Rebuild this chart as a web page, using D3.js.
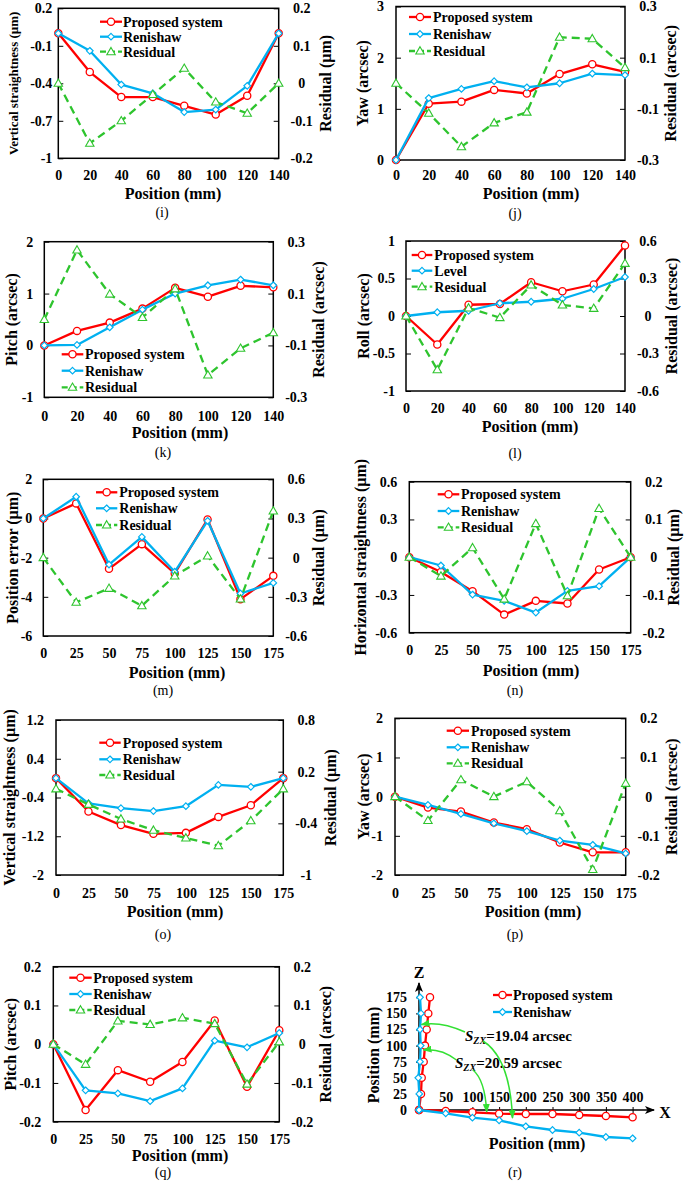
<!DOCTYPE html>
<html><head><meta charset="utf-8">
<script src="https://cdn.jsdelivr.net/npm/d3@7"></script>
<style>body{margin:0;background:#fff} svg{display:block} text{font-family:"Liberation Serif","Times New Roman",serif;}</style>
</head><body><svg id="c" width="685" height="1182" font-family="Liberation Serif, Times New Roman, serif"></svg>
<script>
// ---------- data ----------
const pos140 = [0,20,40,60,80,100,120,140];
const pos175 = [0,25,50,75,100,125,150,175];
const namesRen = ["Proposed system","Renishaw","Residual"];
const namesLev = ["Proposed system","Level","Residual"];

const iProposed = [0,-0.31,-0.51,-0.51,-0.58,-0.65,-0.50,0];
const iRenishaw = [0,-0.14,-0.41,-0.48,-0.63,-0.61,-0.42,0];
const iResidual = [0,-0.16,-0.10,-0.03,0.04,-0.05,-0.08,0];
const iLeftTicks = [0.2,-0.1,-0.4,-0.7,-1];
const iRightTicks = [0.2,0.1,0,-0.1,-0.2];

const jProposed = [0,1.10,1.14,1.37,1.30,1.68,1.87,1.72];
const jRenishaw = [0,1.21,1.39,1.54,1.42,1.50,1.69,1.66];
const jResidual = [0,-0.117,-0.248,-0.155,-0.113,0.18,0.174,0.061];
const jLeftTicks = [3,2,1,0];
const jRightTicks = [0.3,0.1,-0.1,-0.3];

const kProposed = [0,0.28,0.44,0.71,1.11,0.94,1.15,1.12];
const kRenishaw = [0,0.01,0.35,0.69,1.00,1.16,1.27,1.16];
const kResidual = [0,0.268,0.098,0.008,0.118,-0.214,-0.111,-0.051];
const kLeftTicks = [2,1,0,-1];
const kRightTicks = [0.3,0.1,-0.1,-0.3];

const lProposed = [0,-0.38,0.15,0.16,0.45,0.33,0.42,0.94];
const lLevel = [0,0.05,0.07,0.17,0.19,0.23,0.36,0.52];
const lResidual = [0,-0.43,0.064,-0.013,0.248,0.088,0.061,0.421];
const lLeftTicks = [1,0.5,0,-0.5,-1];
const lRightTicks = [0.6,0.3,0,-0.3,-0.6];

const mProposed = [0,0.77,-2.57,-1.31,-2.81,-0.05,-4.12,-2.93];
const mRenishaw = [0,1.11,-2.35,-0.94,-2.72,-0.12,-3.83,-3.29];
const mResidual = [0,-0.342,-0.235,-0.368,-0.14,0.013,-0.317,0.357];
const mLeftTicks = [2,0,-2,-4,-6];
const mRightTicks = [0.6,0.3,0,-0.3,-0.6];

const nProposed = [0,-0.117,-0.27,-0.456,-0.347,-0.368,-0.098,0];
const nRenishaw = [0,-0.066,-0.297,-0.347,-0.44,-0.268,-0.23,0];
const nResidual = [0,-0.05,0.025,-0.111,0.089,-0.102,0.129,0];
const nLeftTicks = [0.6,0.3,0,-0.3,-0.6];
const nRightTicks = [0.2,0.1,0,-0.1,-0.2];

const oProposed = [0,-0.69,-0.97,-1.15,-1.13,-0.80,-0.56,0];
const oRenishaw = [0,-0.52,-0.62,-0.68,-0.58,-0.14,-0.18,0];
const oResidual = [0,-0.18,-0.35,-0.48,-0.57,-0.66,-0.37,0];
const oLeftTicks = [1.2,0.4,-0.4,-1.2,-2];
const oRightTicks = [0.8,0.2,-0.4,-1];

const pProposed = [0,-0.28,-0.38,-0.66,-0.83,-1.17,-1.42,-1.42];
const pRenishaw = [0,-0.21,-0.44,-0.68,-0.88,-1.12,-1.23,-1.45];
const pResidual = [0,-0.061,0.043,0,0.038,-0.036,-0.186,0.034];
const pLeftTicks = [2,1,0,-1,-2];
const pRightTicks = [0.2,0.1,0,-0.1,-0.2];

const qProposed = [0,-0.170,-0.067,-0.097,-0.046,0.061,-0.110,0.036];
const qRenishaw = [0,-0.119,-0.127,-0.147,-0.114,0.009,-0.008,0.029];
const qResidual = [0,-0.052,0.060,0.051,0.068,0.053,-0.103,0.006];
const qLeftTicks = [0.2,0.1,0,-0.1,-0.2];
const qRightTicks = [0.2,0.1,0,-0.1,-0.2];

// (r) squareness plot
const rZPos = [0,25,50,75,100,125,150,175];
const rXPos = [0,50,100,150,200,250,300,350,400];
const rProposedZDev = [0,4,5.4,9.4,12,15.4,18.6,22];
const rRenishawZDev = [0,0.6,-1.4,2,3.4,2,4,2];
const rProposedXDev = [0,-2,-4.6,-7.4,-8,-8,-10,-12,-14.6];
const rRenishawXDev = [0,-6.6,-15.4,-20.6,-32.6,-40,-45.4,-54,-56.6];
const rZTicks = [0,25,50,75,100,125,150,175];
const rXTicks = [50,100,150,200,250,300,350,400];
const rNames = ["Proposed system","Renishaw"];
const rAnnot = ["19.04 arcsec","20.59 arcsec"];

// ---------- style ----------
const RED="#ff0000", BLUE="#00b0f0", GREEN="#2ec42e", ARROWG="#33e033";
const COLORS=[RED,BLUE,GREEN];
const FONT="Liberation Serif, Times New Roman, serif";
const svg = d3.select("#c");

function marker(g, type, cx, cy){
  if(type===0){
    g.append("circle").attr("cx",cx).attr("cy",cy).attr("r",3.6)
     .attr("fill","#fff").attr("stroke",RED).attr("stroke-width",1.3);
  } else if(type===1){
    const s=3.3;
    g.append("path").attr("d",`M${cx},${cy-s}L${cx+s},${cy}L${cx},${cy+s}L${cx-s},${cy}Z`)
     .attr("fill","#fff").attr("stroke",BLUE).attr("stroke-width",1.2);
  } else {
    g.append("path").attr("d",`M${cx},${cy-4.3}L${cx+4.2},${cy+3}L${cx-4.2},${cy+3}Z`)
     .attr("fill","#fff").attr("stroke",GREEN).attr("stroke-width",1.1);
  }
}

function styleAxisText(sel, size){
  sel.attr("font-family",FONT).selectAll("text")
    .attr("font-family",FONT)
    .attr("font-size",size).attr("font-weight","bold").attr("fill","#000");
}

const panels = [
 {lab:"(i)", xs:pos140, s:[iProposed,iRenishaw,iResidual], names:namesRen, ld:[-1,0.2], lt:iLeftTicks, rd:[-0.2,0.2], rt:iRightTicks,
  box:[58.3,8.3,278.7,158.3], lgap:6, ytitle:"Vertical straightness (µm)", yfs:13, ytx:13, rtitle:"Residual (µm)", rtx:325,
  xly:175, xtx:173, xty:193, plx:162, ply:212, leg:[100,122,123,[21.7,36.7,51.7]]},
 {lab:"(j)", xs:pos140, s:[jProposed,jRenishaw,jResidual], names:namesRen, ld:[0,3], lt:jLeftTicks, rd:[-0.3,0.3], rt:jRightTicks,
  box:[396,6.5,625,160], lgap:12, ytitle:"Yaw (arcsec)", ytx:362, rtitle:"Residual (arcsec)", rtx:670,
  xly:175, xtx:531, xty:193, plx:515, ply:213, leg:[409,431,433,[17,34,51]]},
 {lab:"(k)", xs:pos140, s:[kProposed,kRenishaw,kResidual], names:namesRen, ld:[-1,2], lt:kLeftTicks, rd:[-0.3,0.3], rt:kRightTicks,
  box:[44.3,241.7,273.3,397.3], lgap:11, ytitle:"Pitch (arcsec)", ytx:11, rtitle:"Residual (arcsec)", rtx:318,
  xly:415.7, xtx:180, xty:432.3, plx:163, ply:452, leg:[61.7,83.3,85,[354.3,370.7,387.3]]},
 {lab:"(l)", xs:pos140, s:[lProposed,lLevel,lResidual], names:namesLev, ld:[-1,1], lt:lLeftTicks, rd:[-0.6,0.6], rt:lRightTicks,
  box:[406,241,625,391], lgap:11, ytitle:"Roll (arcsec)", ytx:363, rtitle:"Residual (arcsec)", rtx:671,
  xly:408.3, xtx:530, xty:426, plx:515, ply:453, leg:[411.7,432.3,434.3,[255,270.7,286.7]]},
 {lab:"(m)", xs:pos175, s:[mProposed,mRenishaw,mResidual], names:namesRen, ld:[-6,2], lt:mLeftTicks, rd:[-0.6,0.6], rt:mRightTicks,
  box:[43.3,479.3,273.3,636], lgap:11, ytitle:"Position error (µm)", ytx:12, rtitle:"Residual (µm)", rtx:318,
  xly:653.3, xtx:177, xty:672, plx:163, ply:690, leg:[96,117.3,119.3,[492.3,508.3,525]]},
 {lab:"(n)", xs:pos175, s:[nProposed,nRenishaw,nResidual], names:namesRen, ld:[-0.6,0.6], lt:nLeftTicks, rd:[-0.2,0.2], rt:nRightTicks,
  box:[409.3,481.7,630.7,632.7], lgap:12, ytitle:"Horizontal straightness (µm)", ytx:360, rtitle:"Residual (µm)", rtx:673,
  xly:650, xtx:531, xty:670, plx:515, ply:690, leg:[437.7,459.3,461,[494.3,511,527.3]]},
 {lab:"(o)", xs:pos175, s:[oProposed,oRenishaw,oResidual], names:namesRen, ld:[-2,1.2], lt:oLeftTicks, rd:[-1,0.8], rt:oRightTicks,
  box:[56,720,283.3,875], lgap:12, ytitle:"Vertical straightness (µm)", ytx:9, rtitle:"Residual (µm)", rtx:330,
  xly:893, xtx:175, xty:911, plx:163, ply:934, leg:[99.3,120.7,122.7,[742.7,759.3,775]]},
 {lab:"(p)", xs:pos175, s:[pProposed,pRenishaw,pResidual], names:namesRen, ld:[-2,2], lt:pLeftTicks, rd:[-0.2,0.2], rt:pRightTicks,
  box:[395,718.3,625.7,875], lgap:12, ytitle:"Yaw (arcsec)", ytx:363, rtitle:"Residual (arcsec)", rtx:671,
  xly:893, xtx:533, xty:911, plx:515, ply:934, leg:[446.7,469,471,[730.7,747.3,763.3]]},
 {lab:"(q)", xs:pos175, s:[qProposed,qRenishaw,qResidual], names:namesRen, ld:[-0.2,0.2], lt:qLeftTicks, rd:[-0.2,0.2], rt:qRightTicks,
  box:[53.3,966.7,279.3,1121.7], lgap:12, ytitle:"Pitch (arcsec)", ytx:10, rtitle:"Residual (arcsec)", rtx:325,
  xly:1139, xtx:180, xty:1155, plx:163, ply:1172.5, leg:[69.3,91.7,93.3,[977.7,994,1010]]}
];

function drawPanel(p){
  const [L,T,R,B] = p.box;
  const x = d3.scaleLinear().domain([p.xs[0], p.xs[p.xs.length-1]]).range([L,R]);
  const yl = d3.scaleLinear().domain(p.ld).range([B,T]);
  const yr = d3.scaleLinear().domain(p.rd).range([B,T]);
  const g = svg.append("g");

  const ga = g.append("g").attr("transform",`translate(${L},0)`)
    .call(d3.axisLeft(yl).tickValues(p.lt).tickSize(-5).tickPadding(p.lgap).tickFormat(d=>String(d)));
  ga.select(".domain").remove();
  ga.selectAll("line").attr("stroke","#000").attr("stroke-width",1);
  styleAxisText(ga,14);

  const gr = g.append("g").attr("transform",`translate(${R},0)`)
    .call(d3.axisRight(yr).tickValues(p.rt).tickSize(-5).tickFormat(d=>String(d)));
  gr.select(".domain").remove();
  gr.selectAll("line").attr("stroke","#000").attr("stroke-width",1);
  styleAxisText(gr,14);
  gr.selectAll("text").attr("x",23).attr("text-anchor","middle");

  const gx = g.append("g").attr("transform",`translate(0,${B})`)
    .call(d3.axisBottom(x).tickValues(p.xs).tickSize(0).tickFormat(d=>String(d)));
  gx.select(".domain").remove();
  styleAxisText(gx,14);
  gx.selectAll("text").attr("y",p.xly-B).attr("dy","0.35em");

  g.append("rect").attr("x",L).attr("y",T).attr("width",R-L).attr("height",B-T)
    .attr("fill","none").attr("stroke","#000").attr("stroke-width",1.5);

  p.s.forEach((vals,k)=>{
    const sc = k===2 ? yr : yl;
    const line = d3.line().x((d,i)=>x(p.xs[i])).y(d=>sc(d));
    g.append("path").attr("d",line(vals)).attr("fill","none").attr("stroke",COLORS[k])
      .attr("stroke-width",2.3).attr("stroke-dasharray",k===2?"8,5":null).attr("stroke-linejoin","round");
    const mg = g.append("g");
    vals.forEach((v,i)=>marker(mg,k,x(p.xs[i]),sc(v)));
  });

  const [lx0,lx1,tx,rows] = p.leg;
  p.names.forEach((nm,k)=>{
    const y = rows[k];
    g.append("line").attr("x1",lx0).attr("x2",lx1).attr("y1",y).attr("y2",y).attr("stroke",COLORS[k])
      .attr("stroke-width",2.3).attr("stroke-dasharray",k===2?"6,3":null);
    marker(g,k,(lx0+lx1)/2,y);
    g.append("text").attr("x",tx).attr("y",y).attr("dy","0.35em").attr("font-size",14)
      .attr("font-weight","bold").text(nm);
  });

  const cy = (T+B)/2;
  g.append("text").attr("transform",`translate(${p.ytx},${cy}) rotate(-90)`).attr("text-anchor","middle")
    .attr("dy","0.35em").attr("font-size",p.yfs||16).attr("font-weight","bold").text(p.ytitle);
  g.append("text").attr("transform",`translate(${p.rtx},${cy}) rotate(-90)`).attr("text-anchor","middle")
    .attr("dy","0.35em").attr("font-size",16).attr("font-weight","bold").text(p.rtitle);
  g.append("text").attr("x",p.xtx).attr("y",p.xty).attr("dy","0.35em").attr("text-anchor","middle")
    .attr("font-size",16).attr("font-weight","bold").text("Position (mm)");
  g.append("text").attr("x",p.plx).attr("y",p.ply).attr("dy","0.35em").attr("text-anchor","middle")
    .attr("font-size",14).text(p.lab);
}
panels.forEach(drawPanel);

// ---------- panel (r) ----------
(function(){
  const O = [419,1110];
  const z = d3.scaleLinear().domain([0,175]).range([O[1],O[1]-112.7]);
  const xs = d3.scaleLinear().domain([0,400]).range([O[0],O[0]+213.6]);
  const dev = d3.scaleLinear().domain([0,10]).range([0,5]); // µm -> px
  const g = svg.append("g");
  const defs = svg.append("defs");
  defs.append("marker").attr("id","ahK").attr("markerUnits","userSpaceOnUse").attr("markerWidth",10).attr("markerHeight",8)
    .attr("refX",9).attr("refY",4).attr("orient","auto").append("path").attr("d","M0,0L10,4L0,8L2.5,4Z").attr("fill","#000");
  defs.append("marker").attr("id","ahG").attr("markerUnits","userSpaceOnUse").attr("markerWidth",9).attr("markerHeight",7)
    .attr("refX",8).attr("refY",3.5).attr("orient","auto").append("path").attr("d","M0,0L9,3.5L0,7Z").attr("fill",ARROWG);

  g.append("line").attr("x1",O[0]).attr("y1",O[1]).attr("x2",O[0]).attr("y2",983)
    .attr("stroke","#000").attr("stroke-width",1.5).attr("marker-end","url(#ahK)");
  g.append("line").attr("x1",O[0]).attr("y1",O[1]).attr("x2",654).attr("y2",O[1])
    .attr("stroke","#000").attr("stroke-width",1.5).attr("marker-end","url(#ahK)");
  const gz = g.append("g").attr("transform",`translate(${O[0]},0)`)
    .call(d3.axisLeft(z).tickValues(rZTicks).tickSize(3).tickPadding(9).tickFormat(d=>String(d)));
  gz.select(".domain").remove();
  gz.selectAll("line").attr("stroke","#000");
  styleAxisText(gz,14);
  const gxa = g.append("g").attr("transform",`translate(0,${O[1]})`)
    .call(d3.axisTop(xs).tickValues(rXTicks).tickSize(3).tickPadding(6).tickFormat(d=>String(d)));
  gxa.select(".domain").remove();
  gxa.selectAll("line").attr("stroke","#000").attr("y2",-3).attr("y1",3);
  styleAxisText(gxa,14);
  gxa.selectAll("text").attr("y",-13).attr("dy","0.35em");

  g.append("text").attr("x",O[0]).attr("y",972).attr("dy","0.35em").attr("text-anchor","middle")
    .attr("font-size",16).attr("font-weight","bold").text("Z");
  g.append("text").attr("x",665).attr("y",1112).attr("dy","0.35em").attr("text-anchor","middle")
    .attr("font-size",16).attr("font-weight","bold").text("X");

  const zSeries = [rProposedZDev, rRenishawZDev];
  const xSeries = [rProposedXDev, rRenishawXDev];
  [0,1].forEach(k=>{
    const lz = d3.line().x(d=>O[0]+dev(d)).y((d,i)=>z(rZPos[i]));
    const lx = d3.line().x((d,i)=>xs(rXPos[i])).y(d=>O[1]-dev(d));
    g.append("path").attr("d",lz(zSeries[k])).attr("fill","none").attr("stroke",COLORS[k]).attr("stroke-width",2.3);
    g.append("path").attr("d",lx(xSeries[k])).attr("fill","none").attr("stroke",COLORS[k]).attr("stroke-width",2.3);
    const mg = g.append("g");
    zSeries[k].forEach((d,i)=>marker(mg,k,O[0]+dev(d),z(rZPos[i])));
    xSeries[k].forEach((d,i)=>marker(mg,k,xs(rXPos[i]),O[1]-dev(d)));
  });

  [995,1012].forEach((y,k)=>{
    g.append("line").attr("x1",493).attr("x2",512).attr("y1",y).attr("y2",y).attr("stroke",COLORS[k]).attr("stroke-width",2.3);
    marker(g,k,502.5,y);
    g.append("text").attr("x",513).attr("y",y).attr("dy","0.35em").attr("font-size",14).attr("font-weight","bold").text(rNames[k]);
  });

  const ann = [[465,1041],[455,1068]];
  ann.forEach((a,k)=>{
    const t = g.append("text").attr("x",a[0]).attr("y",a[1]).attr("font-size",15).attr("font-weight","bold");
    t.append("tspan").attr("font-style","italic").text("S");
    t.append("tspan").attr("font-style","italic").attr("font-size",10).attr("dy",3).text("ZX");
    t.append("tspan").attr("dy",-3).text("=" + rAnnot[k]);
  });
  const arrows = [
    "M465,1032 Q441,1021 421.5,1024.5",
    "M456.5,1060 Q441,1048 423.5,1050",
    "M483,1041 Q510,1058 512.5,1118",
    "M473,1070 Q485,1080 486.7,1112"
  ];
  arrows.forEach(d=>g.append("path").attr("d",d).attr("fill","none").attr("stroke",ARROWG)
    .attr("stroke-width",1.5).attr("marker-end","url(#ahG)"));

  g.append("text").attr("transform","translate(373,1055) rotate(-90)").attr("text-anchor","middle").attr("dy","0.35em")
    .attr("font-size",16).attr("font-weight","bold").text("Position (mm)");
  g.append("text").attr("x",537).attr("y",1143).attr("dy","0.35em").attr("text-anchor","middle")
    .attr("font-size",16).attr("font-weight","bold").text("Position (mm)");
  g.append("text").attr("x",515).attr("y",1172.5).attr("dy","0.35em").attr("text-anchor","middle")
    .attr("font-size",14).text("(r)");
})();
</script></body></html>
